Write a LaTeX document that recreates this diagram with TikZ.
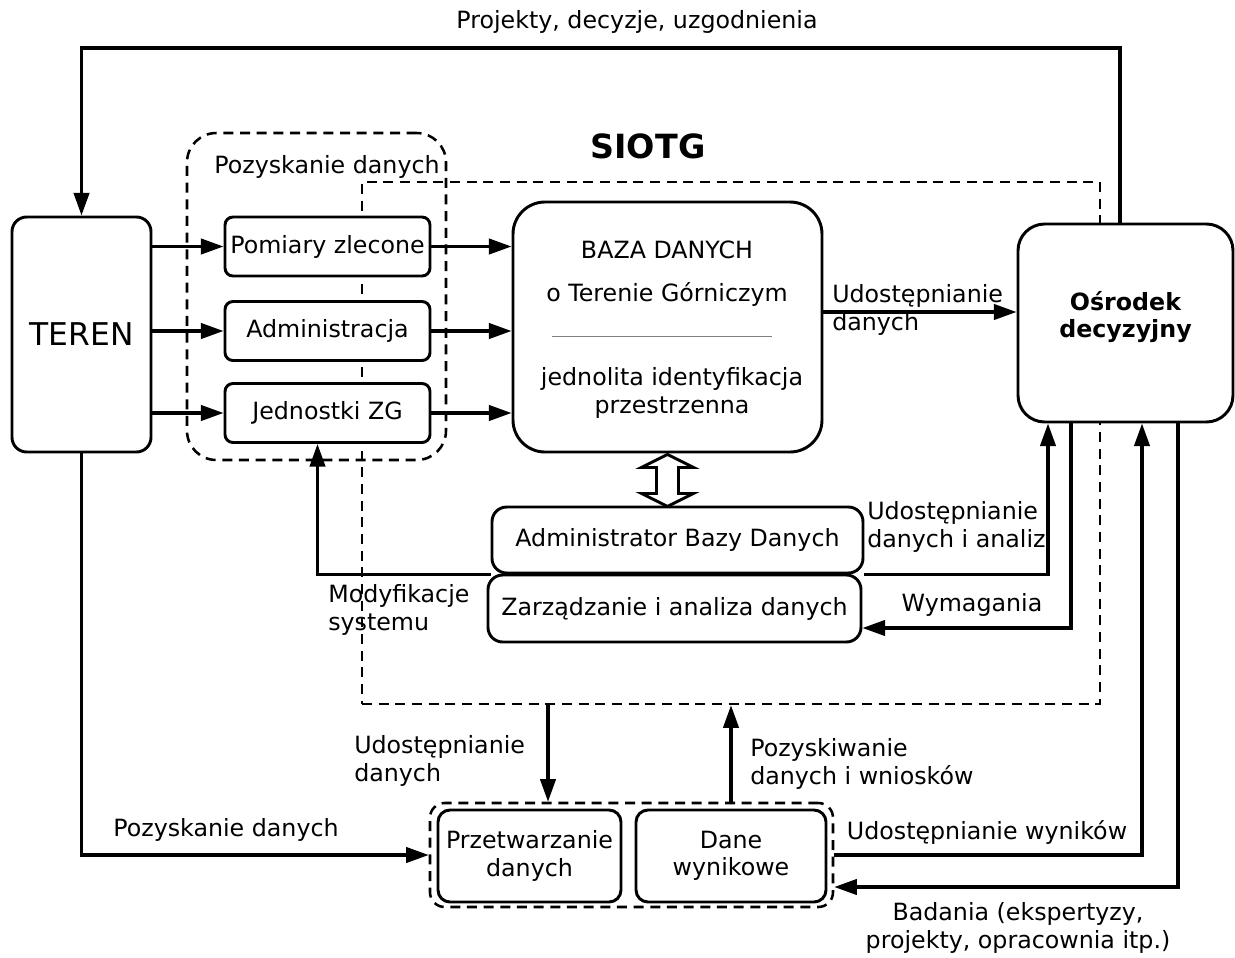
\documentclass[tikz,border=0pt]{standalone}
\usepackage{fontspec}
\setmainfont{DejaVu Sans}
\usetikzlibrary{
  arrows.meta,
  calc,         % Calculations $...$
  positioning,
}
\def\mylw{2.4pt}
\def\myfs{\fontsize{17.8}{20.5}\selectfont}
\tikzset{
  >={Triangle[length=17pt,width=11.5pt]},
  my box/.style={
    draw,
    fill=white,
    line width=2.2pt,
    rounded corners=6pt,
    inner sep=0pt,
    align=center
  },
  my big box/.style={
    my box,
    rounded corners=20pt
  },
  my group/.style={
    draw,
    line width=1.9pt,
    dash pattern=on 7.5pt off 5pt,
    inner sep=0pt
  },
  my line/.style={
    line width=\mylw,
    ->
  },
  my label/.style={
    align=left,
    inner sep=0pt
  }
}

\begin{document}
\begin{tikzpicture}[x=0.75pt,y=-0.75pt,font=\myfs]
\useasboundingbox (0,0) rectangle (1235,957);
% groups (dashed)
\node[my group,minimum width=553.5pt,minimum height=391.5pt] (siotg) at (731,443) {};
\node[my group,rounded corners=22pt,minimum width=194.25pt,minimum height=245.25pt] (acq) at (316.5,296.5) {};
\node[my group,rounded corners=11pt,minimum width=302.25pt,minimum height=78pt] (out) at (631.5,855) {};
% boxes
\node[my box,rounded corners=11pt,minimum width=104.25pt,minimum height=176.25pt,
      font=\fontsize{23.5}{28}\selectfont] (teren) at (81.5,334.5) {TEREN};
\node[my box,minimum width=153.75pt,minimum height=44.25pt] (pom) at (327.5,246.5) {Pomiary zlecone};
\node[my box,minimum width=153.75pt,minimum height=44.25pt] (admin) at (327.5,331) {Administracja};
\node[my box,minimum width=153.75pt,minimum height=44.25pt] (jzg) at (327.5,413) {Jednostki ZG};
\node[my big box,rounded corners=24pt,minimum width=231.75pt,minimum height=187.5pt] (baza) at (667.5,327) {};
\node[my big box,minimum width=161.25pt,minimum height=148.5pt,text depth=13pt,
      font=\myfs\bfseries] (osr) at (1125.5,323) {Ośrodek\\decyzyjny};
\node[my box,rounded corners=11pt,minimum width=278.25pt,minimum height=49.5pt] (adm) at (677.5,540) {Administrator Bazy Danych};
\node[my box,rounded corners=11pt,minimum width=279.75pt,minimum height=50.25pt] (zarz) at (674.5,608.5) {Zarządzanie i analiza danych};
\node[my box,rounded corners=9pt,minimum width=137.25pt,minimum height=69pt] (przetw) at (529.5,856) {Przetwarzanie\\danych};
\node[my box,rounded corners=9pt,minimum width=142.5pt,minimum height=69pt] (dane) at (731,856) {Dane\\wynikowe};
% inside the data base
\node (bz1) at (667,250) {BAZA DANYCH};
\node (bz2) at (667,294) {o Terenie Górniczym};
\draw[gray,line width=0.6pt] (552,336) -- (772,336);
\node[align=center] (bz3) at (672,393) {jednolita identyfikacja\\przestrzenna};
% hollow double arrow
\draw[line width=2.2pt,fill=white,shift={(baza.south)}]
  (0,1) -- (26,14) -- (11,14) -- (11,40) -- (26,40) -- (0,53)
  -- (-26,40) -- (-11,40) -- (-11,14) -- (-26,14) -- cycle;
% titles
\node (ltop) at (637,22) {Projekty, decyzje, uzgodnienia};
\node[font=\bfseries\fontsize{25}{29}\selectfont] (lsiotg) at (648,146) {SIOTG};
\node (lacq) at (327,167) {Pozyskanie danych};
% connectors
\coordinate (tr) at (1120,48);
\coordinate (tl) at (81.5,48);
\draw[my line] (osr.north -| tr) -- (tr) -- (tl) -- (teren.north);
\draw[my line] (teren.east |- pom) -- (pom);
\draw[my line] (teren.east |- admin) -- (admin);
\draw[my line] (teren.east |- jzg) -- (jzg);
\draw[my line] (pom) -- (baza.west |- pom);
\draw[my line] (admin) -- (baza.west |- admin);
\draw[my line] (jzg) -- (baza.west |- jzg);
\draw[my line] ($(baza.east)+(0,-15)$) coordinate (b1) -- (b1 -| osr.west);
\draw[my line] (adm.south west) -| ($(jzg.south)+(-10,0)$);
\draw[my line] (adm.south east) -| ($(osr.south)+(-77.5,0)$);
\draw[my line] ($(osr.south)+(-54.5,0)$) |- ($(zarz.east)+(0,19.5)$);
\coordinate (d1) at ($(out.north)+(-83.5,0)$);
\draw[my line] (siotg.south -| d1) -- (d1);
\draw[my line] (dane.north |- out.north) -- (dane.north |- siotg.south);
\draw[my line] (teren.south) |- (out.west);
\draw[my line] (out.east) -| ($(osr.south)+(16.5,0)$);
\draw[my line] ($(osr.south)+(52.5,0)$) |- ($(out.east)+(0,32)$);
% connector labels
\node[my label,anchor=west] (lud1) at (832,310) {Udostępnianie\\danych};
\node[my label,anchor=west] (lud2) at (867,527) {Udostępnianie\\danych i analiz};
\node[my label,anchor=west] (lmod) at (328,610) {Modyfikacje\\systemu};
\node (lwym) at (972,605) {Wymagania};
\node[my label,anchor=west] (lud3) at (354,761) {Udostępnianie\\danych};
\node[my label,anchor=west] (lpzw) at (750,764) {Pozyskiwanie\\danych i wniosków};
\node (lpoz) at (226,830) {Pozyskanie danych};
\node (lwyn) at (987,832) {Udostępnianie wyników};
\node[align=center] (lbad) at (1018,928) {Badania (ekspertyzy,\\projekty, opracownia itp.)};
\end{tikzpicture}
\end{document}
